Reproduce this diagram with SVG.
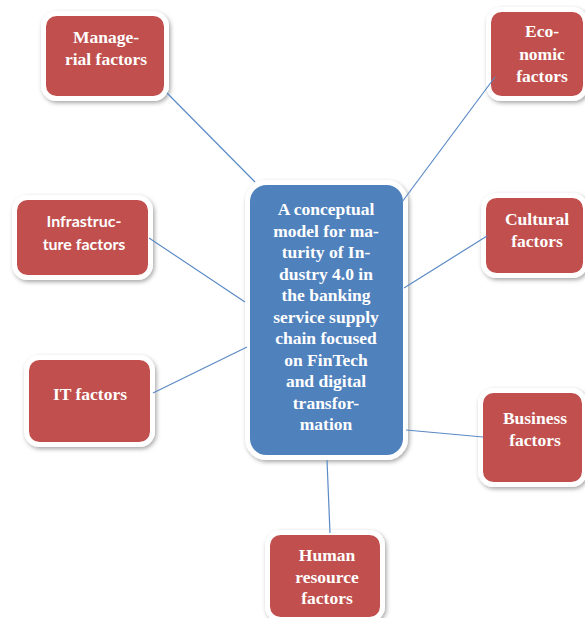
<svg xmlns="http://www.w3.org/2000/svg" width="585" height="618" viewBox="0 0 585 618">
<defs>
<filter id="sh" x="-20%" y="-20%" width="140%" height="140%">
<feDropShadow dx="1.5" dy="2" stdDeviation="2" flood-color="#000" flood-opacity="0.35"/>
</filter>
<style>
.red{fill:#C0504D;stroke:#fff;stroke-width:5;filter:url(#sh)}
.blue{fill:#4F81BD;stroke:#fff;stroke-width:5;filter:url(#sh)}
.t{font-family:"Liberation Serif","Times New Roman",serif;font-weight:bold;font-size:17.5px;fill:#fff;text-anchor:middle}
.s{font-family:Lato,"Liberation Sans",sans-serif;font-weight:bold;font-size:16px;fill:#fff;text-anchor:middle}
.c{stroke:#5B8AC6;stroke-width:1.2;fill:none}
</style>
</defs>
<rect width="585" height="618" fill="#fff"/>
<g id="managerial">
<rect class="red" x="43.5" y="13.5" width="123" height="85" rx="13"/>
<text class="t" x="106" y="43">Manage-</text>
<text class="t" x="106" y="65">rial factors</text>
</g>
<g id="economic">
<rect class="red" x="488.5" y="9.5" width="97" height="89" rx="13"/>
<text class="t" x="542" y="37">Eco-</text>
<text class="t" x="542" y="60">nomic</text>
<text class="t" x="542" y="82">factors</text>
</g>
<g id="infrastructure">
<rect class="red" x="14.5" y="197.5" width="136" height="80" rx="13"/>
<text class="s" x="84" y="227">Infrastruc-</text>
<text class="s" x="84" y="250">ture factors</text>
</g>
<g id="cultural">
<rect class="red" x="483.5" y="195.5" width="102" height="80" rx="13"/>
<text class="t" x="537" y="225">Cultural</text>
<text class="t" x="537" y="247">factors</text>
</g>
<g id="it">
<rect class="red" x="26.5" y="357.5" width="126" height="87" rx="13"/>
<text class="t" x="90" y="400">IT factors</text>
</g>
<g id="business">
<rect class="red" x="480.5" y="390.5" width="104" height="94" rx="13"/>
<text class="t" x="535" y="424">Business</text>
<text class="t" x="535" y="446">factors</text>
</g>
<g id="human">
<rect class="red" x="267.5" y="532.5" width="115" height="87" rx="13"/>
<text class="t" x="327" y="561">Human</text>
<text class="t" x="327" y="583">resource</text>
<text class="t" x="327" y="604">factors</text>
</g>
<g id="central">
<rect class="blue" x="247.5" y="182.5" width="158" height="275" rx="19"/>
<text class="t" x="326" y="215">A conceptual</text>
<text class="t" x="326" y="236.5">model for ma-</text>
<text class="t" x="326" y="258">turity of In-</text>
<text class="t" x="326" y="279.5">dustry 4.0 in</text>
<text class="t" x="326" y="301">the banking</text>
<text class="t" x="326" y="322.5">service supply</text>
<text class="t" x="326" y="344">chain focused</text>
<text class="t" x="326" y="365.5">on FinTech</text>
<text class="t" x="326" y="387">and digital</text>
<text class="t" x="326" y="408.5">transfor-</text>
<text class="t" x="326" y="430">mation</text>
</g>
<g id="connectors">
<line class="c" x1="167" y1="93" x2="255" y2="182"/>
<line class="c" x1="495" y1="77" x2="402" y2="202"/>
<line class="c" x1="149" y1="238" x2="245" y2="302"/>
<line class="c" x1="487" y1="236" x2="404" y2="288"/>
<line class="c" x1="153" y1="393" x2="247" y2="347"/>
<line class="c" x1="483" y1="437" x2="406" y2="430"/>
<line class="c" x1="327" y1="460" x2="330" y2="533"/>
</g>
</svg>
